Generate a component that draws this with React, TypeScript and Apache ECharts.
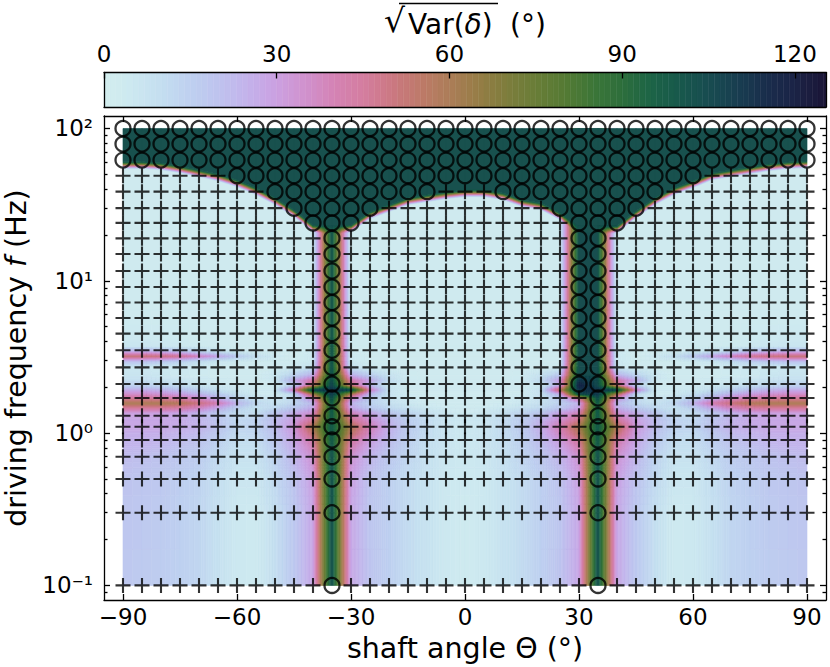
import { useEffect, useRef } from "react";
import * as echarts from "echarts";

const FONT = "DejaVu Sans";

const thetas = [-90, -85, -80, -75, -70, -65, -60, -55, -50, -45, -40, -35, -30, -25, -20, -15, -10, -5, 0, 5, 10, 15, 20, 25, 30, 35, 40, 45, 50, 55, 60, 65, 70, 75, 80, 85, 90];

// driving frequencies of the measured points
const markerFreqs = [100, 79, 62, 49, 38.5, 30, 24, 19, 15, 11.6, 9.1, 7.2, 5.7, 4.5, 3.5, 2.7, 2.1, 1.7, 1.3, 1.1, 0.9, 0.7, 0.5, 0.3, 0.1];

// angle spans drawn as open circles, one entry per row of markerFreqs
const circleSpans: number[][][] = [
  [[-90, 90]], [[-90, 90]], [[-90, 90]], [[-60, 60]],
  [[-50, -10], [10, 50]], [[-45, -25], [25, 45]], [[-40, -30], [30, 40]],
  [[-35, -35], [30, 35]], [[-35, -35], [30, 35]], [[-35, -35], [30, 35]], [[-35, -35], [30, 35]],
  [[-35, -35], [30, 35]], [[-35, -35], [30, 35]], [[-35, -35], [30, 35]], [[-35, -35], [30, 35]],
  [[-35, -35], [30, 35]], [[-35, -35], [30, 35]],
  [[-35, -35], [35, 35]], [[-35, -35], [35, 35]], [[-35, -35], [35, 35]], [[-35, -35], [35, 35]],
  [[-35, -35], [35, 35]], [[-35, -35], [35, 35]], [[-35, -35], [35, 35]], [[-35, -35], [35, 35]],
];

// shaded field: rows low to high frequency, 37 columns each
const heatFreqs = [0.1, 0.3, 0.5, 0.7, 0.89, 0.99, 1.1, 1.22, 1.36, 1.46, 1.58, 1.7, 1.81, 1.93, 2.07, 2.23, 2.4, 2.72, 2.97, 3.21, 3.46, 3.73, 4.21, 6.43, 100];
const heatValues = [
  [18, 17, 16, 15, 13, 9, 5, 4, 10, 18, 28, 104, 28, 20, 15, 11, 8, 5, 3, 5, 8, 11, 15, 20, 28, 104, 28, 18, 10, 4, 5, 9, 13, 15, 16, 17, 18],
  [19, 18, 17, 15, 13, 9, 5, 4, 10, 18, 28, 104, 28, 19, 15, 11, 8, 5, 3, 5, 8, 11, 15, 19, 28, 104, 28, 18, 10, 4, 5, 9, 13, 15, 17, 18, 19],
  [20, 19, 18, 16, 14, 10, 6, 6, 12, 20, 30, 104, 30, 20, 15, 11, 8, 5, 4, 5, 8, 11, 15, 20, 30, 104, 30, 20, 12, 6, 6, 10, 14, 16, 18, 19, 20],
  [22, 21, 20, 18, 16, 12, 8, 8, 14, 24, 34, 104, 34, 24, 18, 13, 9, 6, 5, 6, 9, 13, 18, 24, 34, 104, 34, 24, 14, 8, 8, 12, 16, 18, 20, 21, 22],
  [25, 25, 24, 22, 20, 15, 10, 10, 18, 28, 42, 100, 44, 30, 22, 15, 10, 7, 5, 7, 10, 15, 22, 30, 44, 100, 42, 28, 18, 10, 10, 15, 20, 22, 24, 25, 25],
  [26, 26, 26, 24, 22, 17, 11, 12, 20, 30, 52, 100, 54, 36, 24, 16, 11, 7, 5, 7, 11, 16, 24, 36, 54, 100, 52, 30, 20, 12, 11, 17, 22, 24, 26, 26, 26],
  [28, 28, 28, 27, 25, 20, 13, 14, 22, 32, 60, 100, 60, 40, 26, 17, 11, 7, 5, 7, 11, 17, 26, 40, 60, 100, 60, 32, 22, 14, 13, 20, 25, 27, 28, 28, 28],
  [28, 28, 28, 27, 24, 19, 12, 14, 22, 30, 46, 100, 48, 34, 24, 16, 11, 7, 5, 7, 11, 16, 24, 34, 48, 100, 46, 30, 22, 14, 12, 19, 24, 27, 28, 28, 28],
  [30, 30, 30, 28, 24, 17, 10, 10, 18, 26, 34, 100, 38, 28, 18, 13, 9, 6, 4, 6, 9, 13, 18, 28, 38, 100, 34, 26, 18, 10, 10, 17, 24, 28, 30, 30, 30],
  [44, 44, 44, 42, 36, 26, 14, 8, 12, 18, 26, 100, 28, 18, 12, 9, 6, 4, 3, 4, 6, 9, 12, 18, 28, 100, 26, 18, 12, 8, 14, 26, 36, 42, 44, 44, 44],
  [60, 60, 60, 58, 50, 40, 24, 12, 8, 12, 22, 100, 24, 14, 9, 6, 4, 3, 3, 3, 4, 6, 9, 14, 24, 100, 22, 12, 8, 12, 24, 40, 50, 58, 60, 60, 60],
  [46, 46, 45, 42, 36, 26, 14, 8, 6, 12, 34, 104, 36, 16, 8, 5, 3, 3, 3, 3, 3, 5, 8, 16, 45, 104, 34, 12, 6, 8, 14, 26, 36, 42, 45, 46, 46],
  [36, 36, 34, 30, 24, 16, 9, 5, 4, 10, 60, 110, 60, 22, 8, 4, 3, 3, 3, 3, 3, 4, 8, 24, 104, 110, 60, 10, 4, 5, 9, 16, 24, 30, 34, 36, 36],
  [26, 26, 24, 20, 14, 9, 5, 4, 4, 40, 108, 112, 108, 40, 8, 3, 3, 3, 3, 3, 3, 3, 8, 55, 112, 112, 108, 40, 4, 4, 5, 9, 14, 20, 24, 26, 26],
  [14, 14, 12, 10, 7, 5, 4, 3, 3, 14, 50, 108, 50, 22, 5, 3, 3, 3, 3, 3, 3, 3, 5, 26, 118, 104, 52, 14, 3, 3, 4, 5, 7, 10, 12, 14, 14],
  [10, 10, 8, 7, 5, 4, 3, 3, 5, 26, 42, 104, 42, 28, 10, 4, 3, 3, 3, 3, 3, 4, 10, 30, 112, 104, 42, 26, 5, 3, 3, 4, 5, 7, 8, 10, 10],
  [7, 7, 6, 5, 4, 3, 3, 3, 6, 14, 26, 104, 26, 16, 8, 4, 3, 3, 3, 3, 3, 4, 8, 18, 104, 104, 26, 14, 6, 3, 3, 3, 4, 5, 6, 7, 7],
  [6, 6, 5, 5, 4, 3, 3, 3, 3, 4, 8, 104, 8, 4, 3, 3, 3, 3, 3, 3, 3, 3, 3, 4, 104, 104, 6, 3, 3, 3, 3, 3, 4, 5, 5, 6, 6],
  [20, 20, 18, 15, 10, 6, 4, 3, 3, 3, 5, 104, 5, 3, 3, 3, 3, 3, 3, 3, 3, 3, 3, 3, 104, 104, 5, 3, 3, 3, 4, 6, 10, 15, 18, 20, 20],
  [52, 52, 50, 46, 38, 28, 17, 9, 5, 3, 5, 104, 5, 3, 3, 3, 3, 3, 3, 3, 3, 3, 3, 3, 104, 104, 5, 3, 5, 9, 17, 28, 38, 46, 50, 52, 52],
  [26, 26, 24, 20, 13, 8, 5, 3, 3, 3, 4, 104, 4, 3, 3, 3, 3, 3, 3, 3, 3, 3, 3, 3, 104, 104, 4, 3, 3, 3, 5, 8, 13, 20, 24, 26, 26],
  [7, 7, 6, 5, 4, 3, 3, 3, 3, 3, 3, 104, 3, 3, 3, 3, 3, 3, 3, 3, 3, 3, 3, 3, 104, 104, 3, 3, 3, 3, 3, 3, 4, 5, 6, 7, 7],
  [5, 5, 4, 4, 3, 3, 3, 3, 3, 3, 3, 104, 3, 3, 3, 3, 3, 3, 3, 3, 3, 3, 3, 3, 104, 104, 3, 3, 3, 3, 3, 3, 3, 4, 4, 5, 5],
  [3, 3, 3, 3, 3, 3, 3, 3, 3, 3, 3, 104, 3, 3, 3, 3, 3, 3, 3, 3, 3, 3, 3, 3, 104, 104, 3, 3, 3, 3, 3, 3, 3, 3, 3, 3, 3],
  [3, 3, 3, 3, 3, 3, 3, 3, 3, 3, 3, 104, 3, 3, 3, 3, 3, 3, 3, 3, 3, 3, 3, 3, 104, 104, 3, 3, 3, 3, 3, 3, 3, 3, 3, 3, 3],
];

// lower edge of the saturated high-frequency region, per column
const plateauValue = 103;
const edgeFreqs = [60.5, 60.5, 59.4, 56.7, 53.4, 50.2, 45.9, 40.7, 35, 29.2, 23.2, 22.9, 23.2, 28.3, 31.5, 35, 36.6, 38.3, 39.5, 39.5, 37.7, 34, 32.4, 27.9, 22.9, 22.9, 22.9, 28.7, 35, 40.7, 45.2, 51, 53.4, 55.8, 58.5, 60.3, 61.2];
const edgeFloor = [3, 3, 3, 3, 3, 3, 3, 3, 3, 3, 3, 103, 3, 3, 3, 3, 3, 3, 3, 3, 3, 3, 3, 3, 103, 103, 3, 3, 3, 3, 3, 3, 3, 3, 3, 3, 3];
const edgeSoftness = 0.9;

// colour bar, sampled every 5 degrees from 0 to 125
const cmapStops = [
  [211, 238, 238], [204, 232, 240], [196, 222, 240], [190, 208, 240], [190, 195, 238], [195, 178, 235],
  [203, 160, 225], [208, 145, 205], [212, 130, 180], [212, 125, 160], [203, 120, 130], [190, 122, 105],
  [172, 125, 88], [150, 125, 70], [125, 125, 60], [105, 125, 55], [85, 122, 52], [60, 118, 55],
  [45, 110, 60], [28, 100, 70], [24, 88, 76], [24, 76, 80], [24, 62, 80], [25, 45, 75], [27, 35, 70], [26, 22, 55],
];
const barMax = 125.4;
const barSteps = [0, 5, 10, 15, 20, 25, 30, 35, 40, 45, 50, 55, 60, 65, 70, 75, 80, 85, 90, 95, 100, 105, 110, 115, 120, 125];

const xTicks = [-90, -60, -30, 0, 30, 60, 90];
const barTicks = [0, 30, 60, 90, 120];
const yTicks = [0.1, 1, 10, 100];
const yTickLabels = ["10⁻¹", "10⁰", "10¹", "10²"];
const yMinorTicks = [0.09, 0.2, 0.3, 0.4, 0.5, 0.6, 0.7, 0.8, 0.9, 2, 3, 4, 5, 6, 7, 8, 9, 20, 30, 40, 50, 60, 70, 80, 90];

const cmap = (v: number) => {
  const t = Math.min(Math.max(v, 0), 125) / 5;
  const i = Math.min(Math.floor(t), cmapStops.length - 2);
  const a = cmapStops[i], b = cmapStops[i + 1], k = t - i;
  return `rgb(${a.map((c, n) => Math.round(c + (b[n] - c) * k)).join(",")})`;
};

interface Cell { t0: number; t1: number; f00: number; f10: number; f01: number; f11: number; v00: number; v10: number; v01: number; v11: number }

const heatCells: Cell[] = [];
for (let j = 0; j < heatFreqs.length - 1; j++) {
  for (let i = 0; i < thetas.length - 1; i++) {
    heatCells.push({
      t0: thetas[i], t1: thetas[i + 1],
      f00: heatFreqs[j], f10: heatFreqs[j], f01: heatFreqs[j + 1], f11: heatFreqs[j + 1],
      v00: heatValues[j][i], v10: heatValues[j][i + 1], v01: heatValues[j + 1][i], v11: heatValues[j + 1][i + 1],
    });
  }
}

const plateauCells: Cell[] = [];
for (let i = 0; i < thetas.length - 1; i++) {
  plateauCells.push({
    t0: thetas[i], t1: thetas[i + 1],
    f00: edgeFreqs[i], f10: edgeFreqs[i + 1], f01: 100, f11: 100,
    v00: plateauValue, v10: plateauValue, v01: plateauValue, v11: plateauValue,
  });
  plateauCells.push({
    t0: thetas[i], t1: thetas[i + 1],
    f00: edgeFreqs[i] * edgeSoftness, f10: edgeFreqs[i + 1] * edgeSoftness, f01: edgeFreqs[i], f11: edgeFreqs[i + 1],
    v00: edgeFloor[i], v10: edgeFloor[i + 1], v01: plateauValue, v11: plateauValue,
  });
}

const meshRender = (cells: Cell[]) => (params: any, api: any) => {
  const c = cells[params.dataIndex];
  const p00 = api.coord([c.t0, c.f00]), p10 = api.coord([c.t1, c.f10]);
  const p01 = api.coord([c.t0, c.f01]), p11 = api.coord([c.t1, c.f11]);
  const nx = Math.min(14, Math.max(1, Math.ceil(2 * Math.max(Math.abs(c.v10 - c.v00), Math.abs(c.v11 - c.v01)))));
  const ny = Math.min(14, Math.max(1, Math.ceil(2 * Math.max(Math.abs(c.v01 - c.v00), Math.abs(c.v11 - c.v10)))));
  const at = (u: number, w: number) => [
    (p00[0] * (1 - u) + p10[0] * u) * (1 - w) + (p01[0] * (1 - u) + p11[0] * u) * w,
    (p00[1] * (1 - u) + p10[1] * u) * (1 - w) + (p01[1] * (1 - u) + p11[1] * u) * w,
  ];
  const children: any[] = [];
  for (let a = 0; a < nx; a++) {
    for (let b = 0; b < ny; b++) {
      const u0 = a / nx, u1 = (a + 1) / nx, w0 = b / ny, w1 = (b + 1) / ny;
      const um = (u0 + u1) / 2, wm = (w0 + w1) / 2;
      const v = (c.v00 * (1 - um) + c.v10 * um) * (1 - wm) + (c.v01 * (1 - um) + c.v11 * um) * wm;
      const fill = cmap(v);
      children.push({
        type: "polygon",
        shape: { points: [at(u0, w0), at(u1, w0), at(u1, w1), at(u0, w1)] },
        style: { fill, stroke: fill, lineWidth: 0.6 },
        silent: true,
      });
    }
  }
  return { type: "group", children };
};

const isCircle = (row: number, theta: number) => circleSpans[row].some(([a, b]) => theta >= a && theta <= b);
const plusPoints: number[][] = [];
const circlePoints: number[][] = [];
markerFreqs.forEach((f, row) => {
  thetas.forEach((t) => (isCircle(row, t) ? circlePoints : plusPoints).push([t, f]));
});

const PLUS = "path://M-0.14 -1H0.14V-0.14H1V0.14H0.14V1H-0.14V0.14H-1V-0.14H-0.14Z";

const lineStyle = { color: "#000", width: 1.3 };
const labelStyle = { color: "#000", fontFamily: FONT, fontSize: 23 };
const minus = (v: number) => String(v).replace("-", "\u2212");

export default function App() {
  const chartRef = useRef<HTMLDivElement>(null);
  useEffect(() => {
    if (!chartRef.current) return;
    const chart = echarts.init(chartRef.current, undefined, { renderer: "svg" });
    const yBase = { type: "log", logBase: 10, gridIndex: 0, min: 0.0802, max: 120.8, splitLine: { show: false }, minorTick: { show: false }, z: 5 };
    const xBase = { type: "value", gridIndex: 0, min: -95, max: 95, splitLine: { show: false }, z: 5 };
    const option: any = {
      animation: false,
      grid: [
        { left: 104, top: 116, width: 722, height: 484, outerBoundsMode: "none", containLabel: false },
        { left: 104, top: 72.5, width: 722, height: 34.5, outerBoundsMode: "none", containLabel: false },
      ],
      xAxis: [
        {
          ...xBase, position: "bottom",
          name: "shaft angle Θ (°)", nameLocation: "middle", nameGap: 34,
          nameTextStyle: { color: "#000", fontFamily: FONT, fontSize: 28.5 },
          axisLine: { show: true, onZero: false, lineStyle },
          axisTick: { inside: true, length: 6, lineStyle, customValues: xTicks },
          axisLabel: { ...labelStyle, margin: 5, customValues: xTicks, formatter: minus },
        },
        {
          ...xBase, position: "top",
          axisLine: { show: true, onZero: false, lineStyle },
          axisTick: { inside: true, length: 6, lineStyle, customValues: xTicks },
          axisLabel: { show: false },
        },
        {
          type: "value", gridIndex: 1, position: "top", min: 0, max: barMax, splitLine: { show: false }, z: 5,
          axisLine: { show: true, onZero: false, lineStyle },
          axisTick: { inside: true, length: 6, lineStyle, customValues: barTicks },
          axisLabel: { ...labelStyle, margin: 7, customValues: barTicks },
        },
        {
          type: "value", gridIndex: 1, position: "bottom", min: 0, max: barMax, splitLine: { show: false }, z: 5,
          axisLine: { show: true, onZero: false, lineStyle }, axisTick: { show: false }, axisLabel: { show: false },
        },
      ],
      yAxis: [
        {
          ...yBase, position: "left",
          name: "driving frequency {i|f} (Hz)", nameLocation: "middle", nameGap: 72,
          nameTextStyle: { color: "#000", fontFamily: FONT, fontSize: 28.5, rich: { i: { fontFamily: FONT, fontSize: 28.5, fontStyle: "italic", color: "#000" } } },
          axisLine: { show: true, onZero: false, lineStyle },
          axisTick: { inside: true, length: 6, lineStyle, customValues: yTicks },
          axisLabel: {
            ...labelStyle, margin: 11, customValues: yTicks,
            formatter: (v: number) => yTickLabels[Math.round(Math.log10(v)) + 1],
          },
        },
        {
          ...yBase, position: "right",
          axisLine: { show: true, onZero: false, lineStyle },
          axisTick: { inside: true, length: 6, lineStyle, customValues: yTicks },
          axisLabel: { show: false },
        },
        {
          ...yBase, position: "left",
          axisLine: { show: false, onZero: false },
          axisTick: { inside: true, length: 3.5, lineStyle, customValues: yMinorTicks },
          axisLabel: { show: false },
        },
        {
          ...yBase, position: "right",
          axisLine: { show: false, onZero: false },
          axisTick: { inside: true, length: 3.5, lineStyle, customValues: yMinorTicks },
          axisLabel: { show: false },
        },
        {
          type: "value", gridIndex: 1, position: "left", min: 0, max: 1, splitLine: { show: false }, z: 5,
          axisLine: { show: true, onZero: false, lineStyle }, axisTick: { show: false }, axisLabel: { show: false },
        },
        {
          type: "value", gridIndex: 1, position: "right", min: 0, max: 1, splitLine: { show: false }, z: 5,
          axisLine: { show: true, onZero: false, lineStyle }, axisTick: { show: false }, axisLabel: { show: false },
        },
      ],
      graphic: [
        { type: "text", x: 384, y: 4, z: 10, style: { text: "√", fontFamily: FONT, fontSize: 33, fill: "#000" } },
        { type: "line", z: 10, shape: { x1: 399, y1: 3.5, x2: 498, y2: 3.5 }, style: { stroke: "#000", lineWidth: 1.4 } },
        {
          type: "text", x: 408, y: 10, z: 10,
          style: {
            text: "{a|Var(}{d|δ}{a|)}",
            rich: {
              a: { fontFamily: FONT, fontSize: 28, fill: "#000" },
              d: { fontFamily: FONT, fontSize: 28, fontStyle: "italic", fill: "#000" },
            },
          },
        },
        { type: "text", x: 510, y: 10, z: 10, style: { text: "(°)", fontFamily: FONT, fontSize: 28, fill: "#000" } },
      ],
      series: [
        {
          type: "custom", coordinateSystem: "cartesian2d", xAxisIndex: 0, yAxisIndex: 0, z: 1, silent: true, clip: false,
          renderItem: meshRender(heatCells), data: heatCells.map((c) => [c.t0, c.f00]),
        },
        {
          type: "custom", coordinateSystem: "cartesian2d", xAxisIndex: 0, yAxisIndex: 0, z: 2, silent: true, clip: false,
          renderItem: meshRender(plateauCells), data: plateauCells.map((c) => [c.t0, c.f00]),
        },
        {
          type: "scatter", xAxisIndex: 0, yAxisIndex: 0, z: 3, silent: true, symbol: PLUS, symbolSize: 15,
          itemStyle: { color: "#000" }, data: plusPoints,
        },
        {
          type: "scatter", xAxisIndex: 0, yAxisIndex: 0, z: 4, silent: true, symbol: "circle", symbolSize: 15,
          itemStyle: { color: "transparent", borderColor: "#000", borderWidth: 2.3 }, data: circlePoints,
        },
        {
          type: "custom", coordinateSystem: "cartesian2d", xAxisIndex: 2, yAxisIndex: 4, z: 1, silent: true,
          renderItem: (params: any, api: any) => {
            const v0 = barSteps[params.dataIndex];
            const children: any[] = [];
            for (let k = 0; k < 5 && v0 + k < barMax; k++) {
              const a = api.coord([v0 + k, 0]), b = api.coord([Math.min(v0 + k + 1, barMax), 1]);
              const fill = cmap(v0 + k + 0.5);
              children.push({
                type: "rect",
                shape: { x: a[0], y: b[1], width: b[0] - a[0], height: a[1] - b[1] },
                style: { fill, stroke: fill, lineWidth: 0.5 },
              });
            }
            return { type: "group", children };
          },
          data: barSteps.map((v) => [v, 0]),
        },
      ],
    };
    chart.setOption(option);
    return () => chart.dispose();
  }, []);
  return <div ref={chartRef} style={{ position: "absolute", left: 0, top: 0, width: 830, height: 667 }} />;
}
